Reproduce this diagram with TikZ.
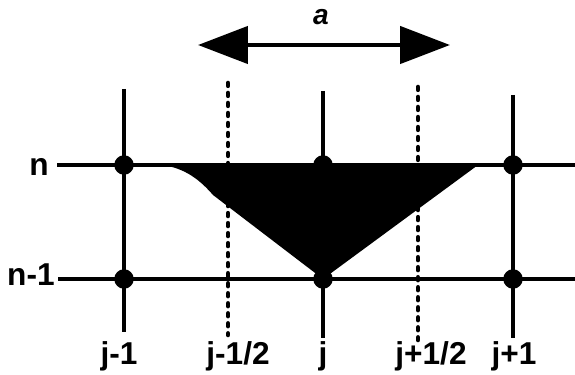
\documentclass[tikz,border=0pt]{standalone}
\usepackage{fontspec}
\setmainfont{Liberation Sans}
\usetikzlibrary{arrows.meta}

\begin{document}
\begin{tikzpicture}[
  x=0.02cm, y=-0.02cm,
  grid/.style={line width=2.2pt, draw=black},
  half/.style={line width=2.6pt, draw=black, dash pattern=on 1.6pt off 4.1pt, line cap=round},
  dot/.style={circle, fill=black, inner sep=0pt, minimum size=3.9mm},
  lab/.style={font=\fontsize{18}{21}\selectfont\bfseries, inner sep=0pt},
  span/.style={{Triangle[length=10mm,width=7.4mm]}-{Triangle[length=10mm,width=7.4mm]}, line width=2.6pt}
]
\useasboundingbox (0,0) rectangle (575,375);

% ---------------- line ends ----------------
\coordinate (nW) at (57,165);   \coordinate (nE) at (575,165);
\coordinate (oW) at (58,279);   \coordinate (oE) at (575,279);
\coordinate (jm1T) at (124,89);  \coordinate (jm1B) at (124,332);
\coordinate (jT) at (323,91);    \coordinate (jB) at (323,338);
\coordinate (jp1T) at (513,95);  \coordinate (jp1B) at (513,338);
\coordinate (jmhT) at (228,83);  \coordinate (jmhB) at (228,335);
\coordinate (jphT) at (418,87);  \coordinate (jphB) at (418,340);
\coordinate (triL) at (162,165); \coordinate (triR) at (478,165);
\coordinate (aL) at (198,45);    \coordinate (aR) at (450,45);

% ---------------- domain of dependence ----------------
\fill[black] (triL) .. controls (185,168) and (200,180) .. (213,195)
  -- (323,279) -- (triR) -- cycle;

% ---------------- mesh ----------------
\draw[grid] (nW) -- (nE);
\draw[grid] (oW) -- (oE);
\draw[grid] (jm1T) -- (jm1B);
\draw[grid] (jT) -- (jB);
\draw[grid] (jp1T) -- (jp1B);
\draw[half] (jmhT) -- (jmhB);
\draw[half] (jphT) -- (jphB);

\node[dot] (jm1n) at (124,165) {};
\node[dot] (jn)   at (323,165) {};
\node[dot] (jp1n) at (513,165) {};
\node[dot] (jm1o) at (124,279) {};
\node[dot] (jo)   at (323,279) {};
\node[dot] (jp1o) at (513,279) {};

% ---------------- speed ----------------
\draw[span] (aL) -- (aR);
\node[lab, font=\fontsize{16}{19}\selectfont\bfseries\itshape, anchor=base] (alab) at (321,25) {a};

% ---------------- labels ----------------
\node[lab, anchor=base east] (ln) at (49,175) {n};
\node[lab, anchor=base east] (lo) at (55,285) {n-1};
\node[lab, anchor=base] (ljm1) at (119,364) {j-1};
\node[lab, anchor=base] (ljmh) at (238,364) {j-1/2};
\node[lab, anchor=base] (lj)   at (323,364) {j};
\node[lab, anchor=base] (ljph) at (431,364) {j+1/2};
\node[lab, anchor=base] (ljp1) at (514,364) {j+1};

\end{tikzpicture}
\end{document}
